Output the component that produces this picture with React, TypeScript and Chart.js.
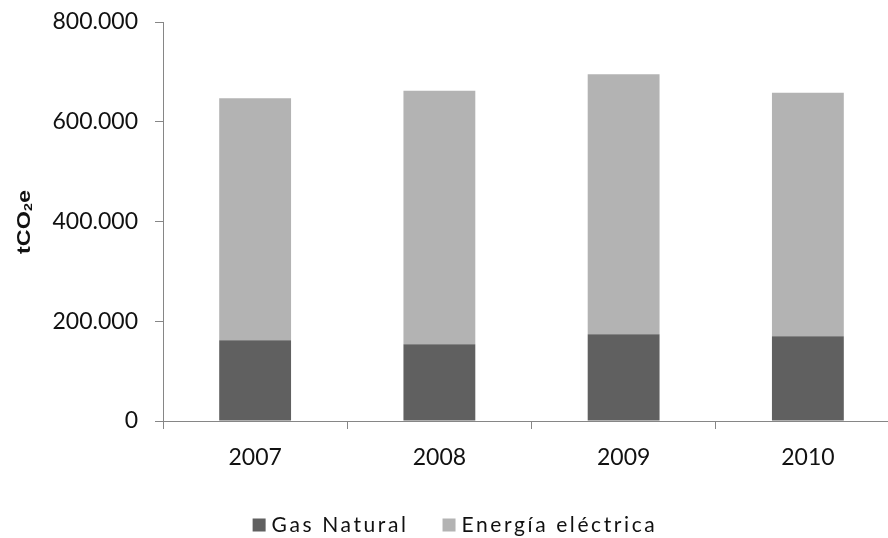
import React, { useEffect, useRef } from "react";
import { Chart, registerables } from "chart.js";

Chart.register(...registerables);

const years: string[] = ["2007", "2008", "2009", "2010"];
const gasNatural: number[] = [162000, 154000, 174000, 170000];
const energiaElectrica: number[] = [485000, 508000, 521000, 488000];
const seriesNames: string[] = ["Gas Natural", "Energía eléctrica"];
const seriesColors: string[] = ["#606060", "#b3b3b3"];
const yMax = 800000;
const yStep = 200000;
const yTitleMain = ["tCO", "2", "e"];

const AXIS_COLOR = "#868686";
const TEXT_COLOR = "#111111";
const TICK_FONT = "Lato";

function formatThousands(v: number): string {
  return String(Math.round(v)).replace(/\B(?=(\d{3})+(?!\d))/g, ".");
}

const yTitlePlugin = {
  id: "yTitleSub",
  afterDraw(chart: any) {
    const ctx = chart.ctx as CanvasRenderingContext2D;
    ctx.save();
    ctx.translate(30, 222);
    ctx.rotate(-Math.PI / 2);
    ctx.scale(1.3, 1);
    ctx.fillStyle = TEXT_COLOR;
    ctx.textBaseline = "alphabetic";
    ctx.textAlign = "left";
    const mainFont = "bold 18px Arial, 'Liberation Sans', sans-serif";
    const subFont = "bold 11px Arial, 'Liberation Sans', sans-serif";
    ctx.font = mainFont;
    const w1 = ctx.measureText(yTitleMain[0]).width;
    const w3 = ctx.measureText(yTitleMain[2]).width;
    ctx.font = subFont;
    const w2 = ctx.measureText(yTitleMain[1]).width;
    let x = -(w1 + w2 + w3) / 2;
    ctx.font = mainFont;
    ctx.fillText(yTitleMain[0], x, 0);
    x += w1;
    ctx.font = subFont;
    ctx.fillText(yTitleMain[1], x, 2);
    x += w2;
    ctx.font = mainFont;
    ctx.fillText(yTitleMain[2], x, 0);
    ctx.restore();
  },
};

const legendPlugin = {
  id: "customLegend",
  afterDraw(chart: any) {
    const ctx = chart.ctx as CanvasRenderingContext2D;
    ctx.save();
    ctx.font = `21px ${TICK_FONT}, sans-serif`;
    (ctx as any).letterSpacing = "2.6px";
    const box = 13;
    const gap = 6;
    const itemGap = 34;
    const widths = chart.data.datasets.map((d: any) => ctx.measureText(d.label).width);
    const total =
      widths.reduce((a: number, w: number) => a + box + gap + w, 0) +
      itemGap * (widths.length - 1);
    let x = chart.width / 2 + 5 - total / 2;
    const baseline = 531.5;
    chart.data.datasets.forEach((d: any, i: number) => {
      ctx.fillStyle = d.backgroundColor;
      ctx.fillRect(x, baseline - box, box, box);
      x += box + gap;
      ctx.fillStyle = TEXT_COLOR;
      ctx.textBaseline = "alphabetic";
      ctx.textAlign = "left";
      ctx.fillText(d.label, x, baseline);
      x += widths[i] + itemGap;
    });
    ctx.restore();
  },
};

export default function App() {
  const canvasRef = useRef<HTMLCanvasElement | null>(null);

  useEffect(() => {
    if (!canvasRef.current) return;
    const chart = new Chart(canvasRef.current, {
      type: "bar",
      data: {
        labels: years,
        datasets: [
          {
            label: seriesNames[0],
            data: gasNatural,
            backgroundColor: seriesColors[0],
            borderWidth: 0,
            categoryPercentage: 1,
            barPercentage: 0.39,
          },
          {
            label: seriesNames[1],
            data: energiaElectrica,
            backgroundColor: seriesColors[1],
            borderWidth: 0,
            categoryPercentage: 1,
            barPercentage: 0.39,
          },
        ],
      },
      options: {
        responsive: false,
        animation: false,
        devicePixelRatio: 1,
        layout: { padding: { top: 22, left: 0, right: 0, bottom: 0 } },
        plugins: {
          legend: { display: false },
          tooltip: { enabled: false },
          title: { display: false },
        },
        scales: {
          x: {
            stacked: true,
            grid: {
              display: true,
              drawOnChartArea: false,
              drawTicks: true,
              tickLength: 8,
              color: AXIS_COLOR,
              lineWidth: 1,
              offset: true,
            },
            border: { display: true, color: AXIS_COLOR, width: 1 },
            ticks: {
              color: TEXT_COLOR,
              font: { family: TICK_FONT, size: 23 },
              padding: 15,
              maxRotation: 0,
            },
            afterFit(scale: any) {
              scale.height = 117;
              scale.paddingLeft = 0;
              scale.paddingRight = 0;
            },
          },
          y: {
            stacked: true,
            min: 0,
            max: yMax,
            grid: {
              display: true,
              drawOnChartArea: false,
              drawTicks: true,
              tickLength: 8,
              color: AXIS_COLOR,
              lineWidth: 1,
            },
            border: { display: true, color: AXIS_COLOR, width: 1 },
            ticks: {
              stepSize: yStep,
              color: TEXT_COLOR,
              font: { family: TICK_FONT, size: 23 },
              padding: 17,
              callback: (v: any) => formatThousands(Number(v)),
            },
            afterFit(scale: any) {
              scale.width = 163;
              scale.paddingTop = 0;
              scale.paddingBottom = 0;
            },
          },
        },
      },
      plugins: [yTitlePlugin, legendPlugin],
    });
    return () => chart.destroy();
  }, []);

  return (
    <div
      style={{
        position: "fixed",
        left: 0,
        top: 0,
        width: 888,
        height: 538,
        overflow: "hidden",
        background: "#ffffff",
      }}
    >
      <canvas ref={canvasRef} width={900} height={538} style={{ width: 900, height: 538, display: "block" }} />
    </div>
  );
}
